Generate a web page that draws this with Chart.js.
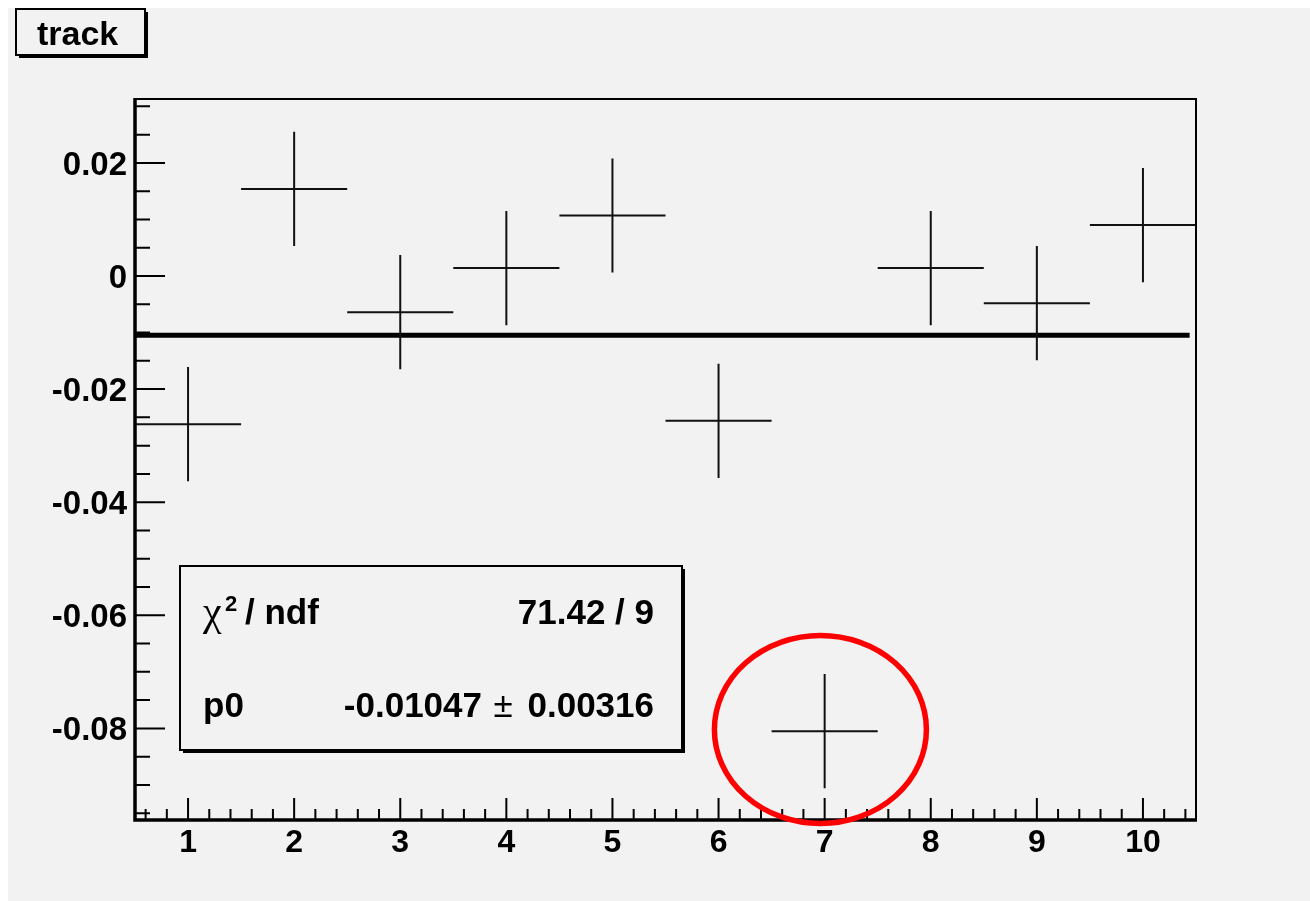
<!DOCTYPE html>
<html>
<head>
<meta charset="utf-8">
<script src="https://cdn.jsdelivr.net/npm/chart.js@4.4.1/dist/chart.umd.min.js"></script>
<style>
  html, body { margin: 0; padding: 0; background: #ffffff; }
  #wrap { width: 1310px; height: 901px; position: relative; }
</style>
</head>
<body>
<div id="wrap"><canvas id="track-chart"></canvas></div>
<script>
// histogram "track": bin centres, contents and errors
const bins = [1, 2, 3, 4, 5, 6, 7, 8, 9, 10];
const values = [-0.0262, 0.0154, -0.0064, 0.0014, 0.0107, -0.0256, -0.0805, 0.0014, -0.0048, 0.0090];
const errors = [0.0101, 0.0101, 0.0101, 0.0101, 0.0101, 0.0101, 0.0101, 0.0101, 0.0101, 0.0101];
const binWidth = 1;

// pol0 fit
const fitP0 = -0.01047;
const fitP0Err = 0.00316;
const fitRange = [0.5, 10.44];
const chi2 = "71.42";
const ndf = "9";

// axes
const xTicks = [1, 2, 3, 4, 5, 6, 7, 8, 9, 10];
const xTickLabels = ["1", "2", "3", "4", "5", "6", "7", "8", "9", "10"];
const yTicks = [0.02, 0, -0.02, -0.04, -0.06, -0.08];
const yTickLabels = ["0.02", "0", "-0.02", "-0.04", "-0.06", "-0.08"];

// the circled outlier (bin 7)
const highlight = { x: 6.96, y: -0.0802 };

const BG = "#f2f2f2";
const FONT = "'Liberation Sans', Arial, Helvetica, sans-serif";

function drawBox(ctx, x, y, w, h) {
  ctx.fillStyle = "#000";
  ctx.fillRect(x + 3, y + 3, w, h);
  ctx.fillStyle = BG;
  ctx.fillRect(x, y, w, h);
  ctx.strokeStyle = "#000";
  ctx.lineWidth = 2;
  ctx.strokeRect(x, y, w, h);
}

const rootStyle = {
  id: "rootStyle",
  beforeDraw(chart) {
    const ctx = chart.ctx;
    ctx.save();
    ctx.fillStyle = "#ffffff";
    ctx.fillRect(0, 0, chart.width, chart.height);
    ctx.fillStyle = BG;
    ctx.fillRect(8, 8, chart.width - 8, chart.height - 8);
    ctx.restore();
  },
  afterDatasetsDraw(chart) {
    const ctx = chart.ctx;
    const xs = chart.scales.x;
    const ys = chart.scales.y;
    const area = chart.chartArea;

    ctx.save();
    // error crosses
    ctx.strokeStyle = "#111";
    ctx.lineWidth = 2;
    ctx.beginPath();
    bins.forEach((b, i) => {
      const px = xs.getPixelForValue(b);
      const py = ys.getPixelForValue(values[i]);
      ctx.moveTo(xs.getPixelForValue(b - binWidth / 2), py);
      ctx.lineTo(xs.getPixelForValue(b + binWidth / 2), py);
      ctx.moveTo(px, ys.getPixelForValue(values[i] + errors[i]));
      ctx.lineTo(px, ys.getPixelForValue(values[i] - errors[i]));
    });
    ctx.stroke();

    // frame
    ctx.strokeStyle = "#000";
    ctx.lineWidth = 2;
    ctx.beginPath();
    ctx.moveTo(area.left, area.top);
    ctx.lineTo(area.right, area.top);
    ctx.lineTo(area.right, area.bottom);
    ctx.stroke();
    ctx.lineWidth = 3.5;
    ctx.beginPath();
    ctx.moveTo(area.left, area.top - 1);
    ctx.lineTo(area.left, area.bottom);
    ctx.lineTo(area.right + 1, area.bottom);
    ctx.stroke();

    // inner ticks
    ctx.lineWidth = 2;
    ctx.beginPath();
    for (let k = -19; k <= 6; k++) {
      const py = ys.getPixelForValue(k * 0.005);
      const len = k % 4 === 0 ? 30 : 15;
      ctx.moveTo(area.left, py);
      ctx.lineTo(area.left + len, py);
    }
    for (let k = 3; k <= 52; k++) {
      const px = xs.getPixelForValue(k * 0.2);
      const len = k % 5 === 0 ? 22 : 11;
      ctx.moveTo(px, area.bottom);
      ctx.lineTo(px, area.bottom - len);
    }
    ctx.stroke();

    // title box
    drawBox(ctx, 16, 9, 129, 46);
    ctx.fillStyle = "#000";
    ctx.font = "bold 34px " + FONT;
    ctx.textBaseline = "alphabetic";
    ctx.textAlign = "left";
    ctx.fillText("track", 37, 45);

    // stats box
    drawBox(ctx, 180, 566, 502, 184);
    ctx.fillStyle = "#000";
    ctx.font = "42px 'Liberation Serif', 'DejaVu Serif', serif";
    ctx.fillText("\u03c7", 203, 625);
    ctx.font = "bold 22px " + FONT;
    ctx.fillText("2", 225, 611);
    ctx.font = "bold 35px " + FONT;
    ctx.fillText("/ ndf", 245, 624);
    ctx.fillText("p0", 203, 717);
    ctx.textAlign = "right";
    ctx.fillText(chi2 + " / " + ndf, 654, 624);
    ctx.fillText(fitP0Err.toFixed(5), 654, 717);
    ctx.fillText(fitP0.toFixed(5), 482, 717);
    ctx.textAlign = "center";
    ctx.font = "35px " + FONT;
    ctx.fillText("\u00b1", 503, 717);

    // red ellipse around the outlier
    ctx.strokeStyle = "#ff0000";
    ctx.lineWidth = 5.5;
    ctx.beginPath();
    ctx.ellipse(xs.getPixelForValue(highlight.x), ys.getPixelForValue(highlight.y), 106, 94, 0, 0, Math.PI * 2);
    ctx.stroke();
    ctx.restore();
  }
};

Chart.defaults.font.family = FONT;
Chart.defaults.color = "#000";

new Chart(document.getElementById("track-chart"), {
  type: "scatter",
  data: {
    datasets: [
      {
        label: "pol0",
        data: fitRange.map((x) => ({ x: x, y: fitP0 })),
        showLine: true,
        borderColor: "#000",
        borderWidth: 5,
        pointRadius: 0,
      },
      {
        label: "track",
        data: bins.map((b, i) => ({ x: b, y: values[i] })),
        pointRadius: 0,
      },
    ],
  },
  options: {
    responsive: true,
    maintainAspectRatio: false,
    animation: false,
    layout: {
      padding: { left: 0, top: 99, right: 114, bottom: 0 },
    },
    plugins: {
      legend: { display: false },
      tooltip: { enabled: false },
    },
    scales: {
      x: {
        type: "linear",
        min: 0.5,
        max: 10.5,
        afterBuildTicks: (scale) => {
          scale.ticks = xTicks.map((v) => ({ value: v }));
        },
        afterFit: (scale) => {
          scale.height = 81;
        },
        grid: { display: false, drawTicks: false },
        border: { display: false },
        ticks: {
          autoSkip: false,
          maxRotation: 0,
          padding: 4,
          font: { size: 32, weight: "bold" },
          callback: (value, index) => xTickLabels[index],
        },
      },
      y: {
        type: "linear",
        min: -0.0962,
        max: 0.0313,
        afterBuildTicks: (scale) => {
          scale.ticks = yTicks.map((v) => ({ value: v }));
        },
        afterFit: (scale) => {
          scale.width = 135;
        },
        grid: { display: false, drawTicks: false },
        border: { display: false },
        ticks: {
          autoSkip: false,
          padding: 8,
          labelOffset: 3,
          font: { size: 33, weight: "bold" },
          callback: (value, index) => yTickLabels[index],
        },
      },
    },
  },
  plugins: [rootStyle],
});
</script>
</body>
</html>
